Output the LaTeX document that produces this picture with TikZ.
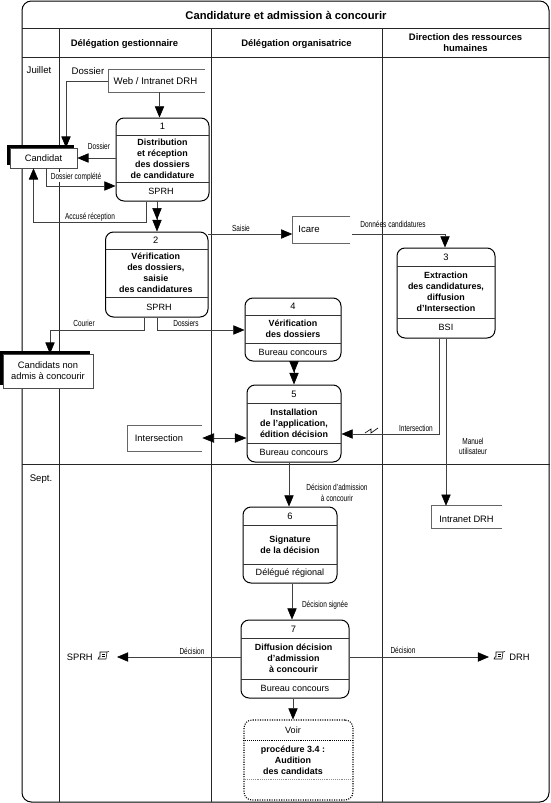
\documentclass[tikz,border=0pt]{standalone}
\usepackage{fontspec}
\setmainfont{Liberation Sans}
\usetikzlibrary{arrows.meta,fit,calc}
\newcommand{\smalllab}[1]{\scalebox{0.74}[1]{\fontsize{6.6pt}{7.5pt}\selectfont #1}}
\newcommand{\tshift}{0}
\tikzset{
  px/.style={x=0.75pt,y=-0.75pt},
  grid/.style={line width=0.75pt,black!85},
  frame/.style={draw,inner sep=0pt,line width=0.75pt,rounded corners=6pt,fit={#1}},
  hole/.style={inner sep=0pt,fit={#1}},
  sepl/.style={line width=0.45pt,black!80},
  conn/.style={line width=0.45pt,black!75},
  tip/.style={-{Triangle[length=8.4pt,width=7pt,black]}},
  tiptwo/.style={-{Triangle[length=8.8pt,width=7pt,sep=0pt,black]Triangle[length=8.8pt,width=7pt,sep=0pt,black]}},
  tipboth/.style={{Triangle[length=8.8pt,width=7pt,black]}-{Triangle[length=8.8pt,width=7pt,black]}},
  num/.style={font=\fontsize{7pt}{8.25pt}\selectfont,inner sep=0pt},
  ttl/.style={font=\fontsize{6.7pt}{8.25pt}\selectfont\bfseries,align=center,inner sep=0pt},
  own/.style={font=\fontsize{6.8pt}{8.25pt}\selectfont,inner sep=0pt},
  plain/.style={font=\fontsize{7.2pt}{8.25pt}\selectfont,align=center,inner sep=0pt},
  head/.style={font=\fontsize{7.1pt}{8.25pt}\selectfont\bfseries,align=center,inner sep=0pt},
  lab/.style={inner sep=0.5pt,align=center},
  ext/.style={draw=black!70,fill=white,line width=0.5pt,inner sep=0pt,font=\fontsize{7pt}{8.25pt}\selectfont,align=center},
  open/.style={line width=0.45pt,black!60},
}
% name, x1, y1, x2, y2, sep1, sep2, num, title
\newcommand{\procbox}[9]{%
  \node[frame={(#2,#3)(#4,#5)}] (#1) {};
  \draw[sepl] (#2,#6) -- (#4,#6);
  \draw[sepl] (#2,#7) -- (#4,#7);
  \node[num,xshift=\tshift pt] (#1n) at ($(#2,#3)!0.5!(#4,#6)$) {#8};
  \node[ttl,xshift=\tshift pt] (#1t) at ($(#2,#6)!0.5!(#4,#7)$) {#9};
}
\newcommand{\docicon}[1]{%
  \begin{scope}[shift={(#1)}]
    \draw[line width=0.4pt] (-3,-4) -- (4,-4) -- (3,3) -- (-5,3) -- (-4,1) -- (-3,1) -- cycle;
    \draw[line width=0.4pt] (-1.5,-2) -- (2,-2) (-1.5,0) -- (2,0);
    \draw[line width=0.4pt] (4,-4) -- (6,-4.5);
  \end{scope}}
\begin{document}
\begin{tikzpicture}[px]
\useasboundingbox (0,0) rectangle (550,803);
% Grid
\node[hole={(22,1)(549,802)},draw,line width=0.75pt,rounded corners=7pt] (outer) {};
\draw[grid] (outer.west|-0,28) -- (outer.east|-0,28);
\draw[grid] (outer.west|-0,57) -- (outer.east|-0,57);
\draw[grid] (outer.west|-0,464) -- (outer.east|-0,464);
\draw[grid] (59,28) -- (59,802);
\draw[grid] (211,28) -- (211,802);
\draw[grid] (382,28) -- (382,802);
% Headers
\node[font=\fontsize{8.4pt}{9.5pt}\selectfont\bfseries,inner sep=0pt] (title) at (286,15) {Candidature et admission à concourir};
\node[head] (hg) at (124.5,44) {Délégation gestionnaire};
\node[head] (ho) at (296.5,44) {Délégation organisatrice};
\node[head] (hd) at (465.5,43) {Direction des ressources\\humaines};
\node[plain] (juil) at (39,70.5) {Juillet};
\node[plain] (sept) at (41,479) {Sept.};
% Processes
\procbox{bA}{116}{118}{209}{201}{135}{182}{1}{Distribution\\et réception\\des dossiers\\de candidature}
\node[own] (bAo) at (161,191.5) {SPRH};
\renewcommand{\tshift}{-0.7}
\procbox{bB}{105.5}{232}{208}{317}{249}{297}{2}{Vérification\\des dossiers,\\saisie\\des candidatures}
\node[own] (bBo) at (159,307) {SPRH};
\renewcommand{\tshift}{0}
\procbox{bC}{397}{248}{495}{338}{266}{318}{3}{Extraction\\des candidatures,\\diffusion\\d'Intersection}
\node[own] (bCo) at (446,327.5) {BSI};
\procbox{bD}{245}{298}{341}{361}{315}{343}{4}{Vérification\\des dossiers}
\node[own] (bDo) at (293,352.5) {Bureau concours};
\procbox{bE}{247}{385}{341}{462}{403}{443}{5}{Installation\\de l'application,\\édition décision}
\node[own] (bEo) at (294,452) {Bureau concours};
\procbox{bF}{243}{507}{337}{583}{525}{564}{6}{Signature\\de la décision}
\node[own] (bFo) at (290,573.5) {Délégué régional};
\renewcommand{\tshift}{-1.1}
\procbox{bG}{241}{620}{349}{698}{638}{679}{7}{Diffusion décision\\d'admission\\à concourir}
\node[own] (bGo) at (295,688.5) {Bureau concours};
% Voir
\node[hole={(244,720)(353,800)},draw,densely dotted,line width=0.8pt,rounded corners=6pt] (voir) {};
\draw[densely dotted,line width=0.45pt] (voir.west|-0,740) -- (voir.east|-0,740);
\draw[densely dotted,line width=0.4pt,black!45] (voir.west|-0,779) -- (voir.east|-0,779);
\node[own] (voirn) at (293,730) {Voir};
\node[ttl] (voirt) at (293,760.5) {procédure 3.4 :\\Audition\\des candidats};
% External entities
\fill[black] (7,145) rectangle (74,165);
\node[ext,hole={(10,148)(77,168)}] (cand) {};
\node[plain,font=\fontsize{7pt}{8.25pt}\selectfont] at (cand.center) {Candidat};
\fill[black] (0,351) rectangle (90,385);
\node[ext,hole={(3,354)(93,388)}] (nadm) {};
\node[plain,font=\fontsize{7pt}{8.25pt}\selectfont] at (nadm.center) {Candidats non\\admis à concourir};
% Open stores
\node[hole={(108.5,69.5)(205,92)}] (web) {};
\draw[open] (web.north east) -- (web.north west) -- (web.south west) -- (web.south east);
\node[plain] at (155.5,81) {Web / Intranet DRH};
\node[plain] (dos) at (88,71) {Dossier};
\node[hole={(292.5,217)(350,243)}] (icare) {};
\draw[open] (icare.north east) -- (icare.north west) -- (icare.south west) -- (icare.south east);
\node[plain] at (309,229) {Icare};
\node[hole={(128,426)(202,451)}] (inter) {};
\draw[open] (inter.north east) -- (inter.north west) -- (inter.south west) -- (inter.south east);
\node[plain,font=\fontsize{7pt}{8.25pt}\selectfont] at (159,438) {Intersection};
\node[hole={(432,506)(502,528)}] (intra) {};
\draw[open] (intra.north east) -- (intra.north west) -- (intra.south west) -- (intra.south east);
\node[plain,font=\fontsize{7pt}{8.25pt}\selectfont] at (466.5,519) {Intranet DRH};
% Connectors
\coordinate (c1) at (66,81);
\draw[conn,tip] (web.west|-c1) -- (c1) -- (c1|-cand.north);
\coordinate (c0) at (159.5,100);
\draw[conn,tip] (web.south-|c0) -- (bA.north-|c0);
\draw[conn,tip] (bA.west|-cand.east) -- (cand.east);
\coordinate (c2) at (46.5,186);
\draw[conn,tip] (c2|-cand.south) -- (c2) -- (bA.west|-c2);
\coordinate (c3) at (146.5,222);
\coordinate (c4) at (33.5,222);
\draw[conn,tip] (c3|-bA.south) -- (c3) -- (c4) -- (c4|-cand.south);
\coordinate (c5) at (157,201);
\draw[conn,tiptwo] (c5) -- (c5|-bB.north);
\coordinate (c6) at (208,234);
\draw[conn,tip] (c6) -- (c6-|icare.west);
\coordinate (c7) at (445,234);
\draw[conn,tip] (352,234) -- (c7) -- (c7|-bC.north);
\coordinate (c8) at (144,330);
\coordinate (c9) at (50,330);
\draw[conn,tip] (c8|-bB.south) -- (c8) -- (c9) -- (c9|-nadm.north);
\coordinate (c10) at (157,330);
\draw[conn,tip] (c10|-bB.south) -- (c10) -- (c10-|bD.west);
\coordinate (c11) at (294,373);
\draw[conn,tiptwo] (c11|-bD.south) -- (c11|-bE.north);
\coordinate (c12) at (439,434);
\draw[conn,tip] (c12|-bC.south) -- (c12) -- (c12-|bE.east);
\coordinate (c13) at (446,420);
\draw[conn,tip] (c13|-bC.south) -- (c13|-intra.north);
\coordinate (c14) at (0,438);
\draw[conn,tipboth] (inter.east|-c14) -- (bE.west|-c14);
\coordinate (c15) at (289,480);
\draw[conn,tip] (c15|-bE.south) -- (c15|-bF.north);
\coordinate (c16) at (292,600);
\draw[conn,tip] (c16|-bF.south) -- (c16|-bG.north);
\coordinate (c17) at (293,710);
\draw[conn,tip] (c17|-bG.south) -- (c17|-voir.north);
\node[plain,font=\fontsize{7pt}{8.25pt}\selectfont,anchor=east] (sprh) at (93,657) {SPRH};
\node[plain,font=\fontsize{7pt}{8.25pt}\selectfont,anchor=west] (drh) at (509,657) {DRH};
\coordinate (c18) at (117,657);
\coordinate (c19) at (489,657);
\draw[conn,tip] (bG.west|-c18) -- (c18);
\draw[conn,tip] (bG.east|-c19) -- (c19);
\docicon{103,656}
\docicon{499,656}
% Lightning
\draw[line width=0.5pt] (365,433) -- (371,429) -- (371,433) -- (378,428);
% Labels
\node[lab] at (99,146) {\smalllab{Dossier}};
\node[lab,fill=white] at (76,177) {\smalllab{Dossier complété}};
\node[lab] at (90,217) {\smalllab{Accusé réception}};
\node[lab] at (241,228) {\smalllab{Saisie}};
\node[lab] at (393,224) {\smalllab{Données candidatures}};
\node[lab] at (84,323) {\smalllab{Courier}};
\node[lab] at (186,323) {\smalllab{Dossiers}};
\node[lab] at (416,428) {\smalllab{Intersection}};
\node[lab] at (473,441) {\smalllab{Manuel}};
\node[lab] at (473,451.5) {\smalllab{utilisateur}};
\node[lab] at (337,487) {\smalllab{Décision d'admission}};
\node[lab] at (337,498) {\smalllab{à concourir}};
\node[lab] at (325,605) {\smalllab{Décision signée}};
\node[lab] at (192,651) {\smalllab{Décision}};
\node[lab] at (403,650) {\smalllab{Décision}};
\end{tikzpicture}
\end{document}
